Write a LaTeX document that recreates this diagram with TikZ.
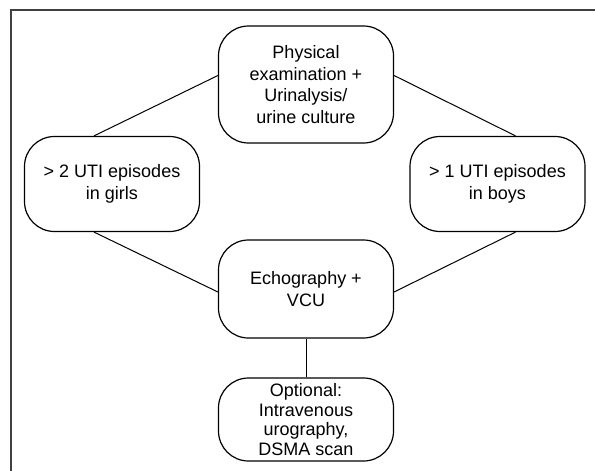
\documentclass[tikz,border=0pt]{standalone}
\usepackage{fontspec}
\setmainfont{Liberation Sans}
\usetikzlibrary{calc}
\begin{document}
\begin{tikzpicture}[x=1pt,y=-1pt,
  box/.style={draw=black, line width=1.2pt, rounded corners=30pt, minimum width=175pt,
    align=center, inner sep=0pt, font=\fontsize{18}{21.5}\selectfont},
  link/.style={draw=black, line width=1pt},
  frameline/.style={draw=black!75, line width=2pt}]
\useasboundingbox (0,0) rectangle (595,471);
\draw[frameline] (595,10) -- (10.5,10) -- (10.5,471);
\node[box, minimum height=117pt] (top) at (306,84.5) {Physical\\examination +\\Urinalysis/\\urine culture};
\node[box, minimum height=95pt] (left) at (112,184) {> 2 UTI episodes\\in girls};
\node[box, minimum height=95pt] (right) at (497.5,184) {> 1 UTI episodes\\in boys};
\node[box, minimum height=98pt] (echo) at (306,289) {Echography +\\VCU};
\node[box, minimum height=83pt, font=\fontsize{18}{19.5}\selectfont] (opt) at (306,419.5) {Optional:\\Intravenous\\urography,\\DSMA scan};
\draw[link] ($(left.north)+(-18,0)$) -- ($(top.west)+(0,-9)$);
\draw[link] ($(top.east)+(0,-9)$) -- ($(right.north)+(18,0)$);
\draw[link] ($(left.south)+(-18,0)$) -- ($(echo.west)+(0,3)$);
\draw[link] ($(right.south)+(18,0)$) -- ($(echo.east)+(0,3)$);
\draw[link] (echo.south) -- (opt.north);
\end{tikzpicture}
\end{document}
